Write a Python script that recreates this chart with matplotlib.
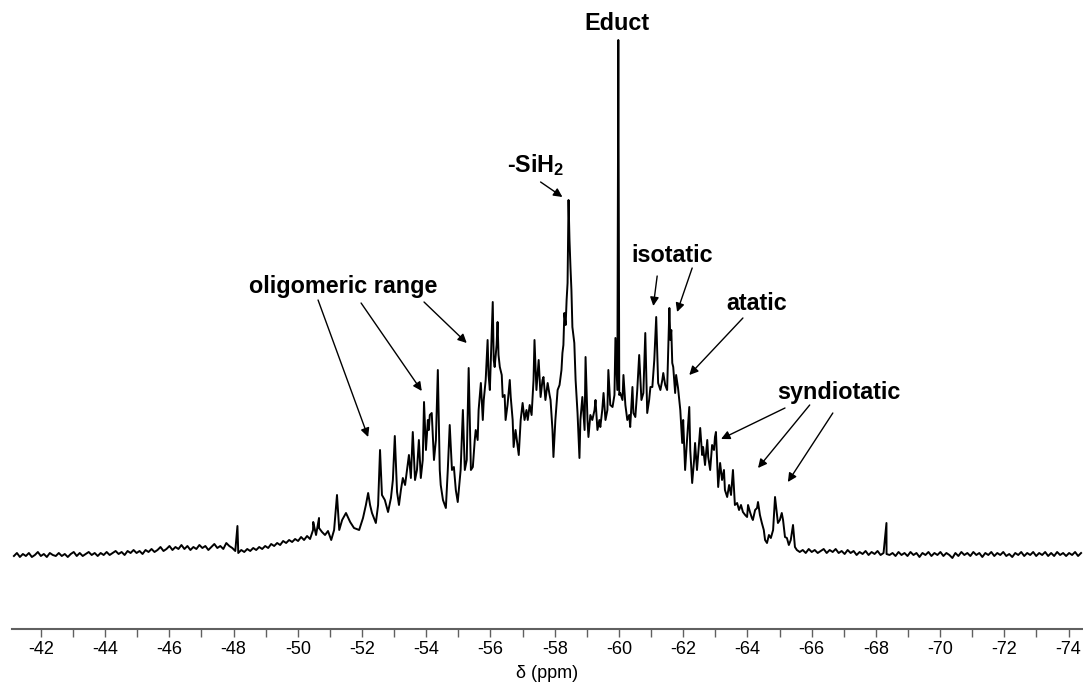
import numpy as np
import matplotlib
matplotlib.use("Agg")
import matplotlib.pyplot as plt

plt.rcParams['font.family'] = ['Liberation Sans', 'DejaVu Sans']
plt.rcParams['mathtext.fontset'] = 'custom'
plt.rcParams['mathtext.rm'] = 'Liberation Sans'
plt.rcParams['mathtext.bf'] = 'Liberation Sans:bold'
plt.rcParams['axes.unicode_minus'] = False

# 29Si NMR trace, intensity in a.u. (baseline = 0, Educt line = 515)
# low-field baseline, even steps from -41.16 to -50.94 ppm
base_left = [-1, 2, -2, 1, -1, 2, -2, 0, 3, -1, 1, -2, 2, 0, -1, 2, -1, 1, -2, 1,
             3, -1, 2, -1, 1, 3, 0, 2, -1, 2, 0, 3, 0, 2, 4, 1, 3, 0, 4, 2,
             5, 2, 4, 1, 5, 3, 6, 3, 5, 8, 4, 6, 9, 5, 8, 6, 10, 6, 9, 5,
             8, 6, 10, 7, 9, 5, 8, 11, 7, 9, 6, 12, 9, 7, 4, 2, 5, 3, 6, 4,
             7, 5, 8, 6, 9, 7, 11, 9, 12, 10, 14, 12, 15, 13, 16, 14, 18, 15, 19, 16,
             25, 20, 27, 23, 20, 24]
# high-field baseline, even steps from -65.63 to -74.39 ppm
base_right = [3, 5, 2, 6, 3, 5, 2, 4, 6, 2, 5, 3, 6, 2, 4, 1, 5, 2, 4, 0,
              3, 1, 4, 0, 3, 1, 4, 0, 2, 1, 0, 2, -1, 3, 0, 2, -1, 3, 0, 2,
              -2, 2, 0, 3, -1, 2, 0, 3, -1, 2, 0, -3, 2, -1, 3, 0, 2, -1, 3, 0,
              2, -2, 2, 0, 3, -1, 2, 0, 3, -1, 1, -2, 2, 0, 3, -1, 2, 0, 3, -1,
              2, 0, 3, -1, 2, -1, 3, 0, 2, -1, 2, 0, 3, -1, 2]
# isolated sharp lines on the baselines
spike_ppm = [-48.12, -50.48, -50.66, -68.33]
spike_int = [29, 33, 37, 32]

# polymer region (ppm, intensity)
main_trace = [
    (-51.04, 15), (-51.13, 25), (-51.22, 60), (-51.29, 25), (-51.38, 35), (-51.50, 42),
    (-51.63, 33), (-51.75, 27), (-51.91, 25), (-52.03, 37), (-52.12, 50), (-52.19, 62),
    (-52.25, 50), (-52.31, 42), (-52.43, 32), (-52.50, 50), (-52.56, 105), (-52.62, 60),
    (-52.71, 55), (-52.81, 43), (-52.90, 57), (-52.96, 75), (-53.02, 119), (-53.09, 63),
    (-53.15, 50), (-53.21, 65), (-53.27, 77), (-53.34, 70), (-53.40, 85), (-53.46, 100),
    (-53.52, 77), (-53.58, 123), (-53.65, 75), (-53.71, 85), (-53.77, 115), (-53.83, 77),
    (-53.89, 95), (-53.93, 153), (-53.99, 105), (-54.05, 135), (-54.08, 125), (-54.11, 140),
    (-54.17, 142), (-54.24, 95), (-54.30, 115), (-54.36, 185), (-54.42, 85), (-54.45, 70),
    (-54.52, 55), (-54.61, 47), (-54.67, 85), (-54.73, 130), (-54.80, 85), (-54.86, 88),
    (-54.92, 65), (-54.98, 53), (-55.04, 75), (-55.07, 85), (-55.14, 145), (-55.20, 85),
    (-55.26, 95), (-55.32, 187), (-55.39, 85), (-55.45, 88), (-55.51, 115), (-55.54, 125),
    (-55.60, 115), (-55.63, 145), (-55.70, 172), (-55.76, 135), (-55.79, 155), (-55.85, 175),
    (-55.91, 215), (-55.94, 180), (-55.98, 165), (-56.04, 225), (-56.07, 253), (-56.10, 195),
    (-56.13, 188), (-56.19, 210), (-56.22, 233), (-56.25, 200), (-56.29, 188), (-56.35, 180),
    (-56.38, 158), (-56.44, 160), (-56.47, 135), (-56.53, 150), (-56.60, 175), (-56.63, 158),
    (-56.69, 135), (-56.72, 108), (-56.78, 125), (-56.84, 110), (-56.88, 100), (-56.94, 135),
    (-57.00, 152), (-57.06, 135), (-57.12, 145), (-57.16, 135), (-57.22, 150), (-57.28, 140),
    (-57.34, 175), (-57.37, 215), (-57.43, 165), (-57.50, 195), (-57.56, 158), (-57.62, 175),
    (-57.65, 178), (-57.71, 155), (-57.78, 172), (-57.84, 160), (-57.87, 155), (-57.93, 125),
    (-57.96, 98), (-58.02, 135), (-58.09, 165), (-58.15, 170), (-58.21, 185), (-58.24, 202),
    (-58.27, 210), (-58.30, 242), (-58.34, 230), (-58.37, 255), (-58.40, 272), (-58.43, 355),
    (-58.46, 315), (-58.49, 288), (-58.52, 265), (-58.55, 228), (-58.61, 212), (-58.65, 175),
    (-58.71, 142), (-58.77, 97), (-58.80, 135), (-58.86, 158), (-58.93, 125), (-58.96, 198),
    (-59.02, 135), (-59.05, 118), (-59.11, 140), (-59.17, 135), (-59.24, 145), (-59.27, 155),
    (-59.33, 125), (-59.39, 135), (-59.42, 128), (-59.48, 145), (-59.52, 162), (-59.58, 135),
    (-59.64, 145), (-59.67, 185), (-59.73, 150), (-59.80, 148), (-59.86, 160), (-59.89, 217),
    (-59.95, 165), (-59.98, 515), (-60.01, 160), (-60.04, 162), (-60.11, 155), (-60.14, 180),
    (-60.20, 150), (-60.26, 135), (-60.32, 140), (-60.35, 128), (-60.42, 168), (-60.45, 142),
    (-60.51, 138), (-60.57, 165), (-60.63, 200), (-60.70, 155), (-60.76, 162), (-60.82, 222),
    (-60.88, 142), (-60.94, 155), (-60.98, 168), (-61.04, 168), (-61.10, 195), (-61.16, 238),
    (-61.22, 172), (-61.29, 165), (-61.35, 175), (-61.38, 182), (-61.44, 170), (-61.50, 165),
    (-61.57, 247), (-61.60, 215), (-61.63, 225), (-61.66, 192), (-61.69, 188), (-61.75, 162),
    (-61.78, 180), (-61.84, 167), (-61.91, 145), (-61.97, 112), (-62.00, 135), (-62.06, 85),
    (-62.12, 115), (-62.19, 148), (-62.22, 105), (-62.28, 72), (-62.34, 95), (-62.37, 112),
    (-62.43, 85), (-62.50, 115), (-62.53, 127), (-62.59, 100), (-62.62, 108), (-62.68, 90),
    (-62.75, 115), (-62.78, 98), (-62.84, 85), (-62.90, 110), (-62.96, 105), (-62.99, 118),
    (-63.02, 123), (-63.09, 68), (-63.15, 92), (-63.21, 75), (-63.27, 85), (-63.30, 65),
    (-63.37, 58), (-63.43, 70), (-63.49, 60), (-63.55, 85), (-63.61, 50), (-63.68, 52),
    (-63.74, 45), (-63.80, 50), (-63.86, 43), (-63.93, 40), (-63.99, 38), (-64.02, 50),
    (-64.08, 43), (-64.14, 37), (-64.17, 35), (-64.24, 45), (-64.30, 47), (-64.33, 53),
    (-64.39, 40), (-64.45, 32), (-64.51, 25), (-64.55, 15), (-64.61, 12), (-64.67, 20),
    (-64.73, 17), (-64.80, 25), (-64.86, 58), (-64.92, 40), (-64.95, 32), (-65.01, 35),
    (-65.07, 42), (-65.11, 35), (-65.17, 18), (-65.23, 17), (-65.29, 10), (-65.35, 15),
    (-65.42, 30), (-65.48, 8), (-65.54, 5),
]

main_ppm = np.array([p for p, _ in main_trace])
main_int = np.array([i for _, i in main_trace])
left_ppm = np.linspace(-41.16, -50.94, len(base_left))
right_ppm = np.linspace(-65.63, -74.39, len(base_right))

ppm = np.concatenate([left_ppm, spike_ppm, main_ppm, right_ppm])
inten = np.concatenate([base_left, spike_int, main_int, base_right])
order = np.argsort(-ppm)
ppm, inten = ppm[order], inten[order]

fig = plt.figure(figsize=(10.83, 6.83), dpi=100)
ax = fig.add_axes([12 / 1083, 54 / 683, 1 - 12 / 1083, 629 / 683])
ax.plot(ppm, inten, color='black', lw=1.4)

ax.set_xlim(-41.1, -74.45)
ax.set_ylim(-74, 555)
ax.set_xticks(np.arange(-42, -75, -2))
ax.set_xticks(np.arange(-43, -75, -2), minor=True)
ax.set_yticks([])
for side in ['left', 'top', 'right']:
    ax.spines[side].set_visible(False)
ax.spines['bottom'].set_color('#606060')
ax.spines['bottom'].set_linewidth(1.5)
ax.tick_params(axis='x', which='both', direction='out', length=6, width=1,
               color='#606060', labelsize=13, pad=3)
ax.set_xlabel('δ (ppm)', fontsize=13, labelpad=5)

label_kw = dict(fontsize=16.8, fontweight='bold', ha='center', va='center')
ax.text(-59.95, 532, 'Educt', **label_kw)
ax.text(-57.40, 390, '-SiH$_\\mathbf{2}$', **label_kw)
ax.text(-61.66, 300, 'isotatic', **label_kw)
ax.text(-64.30, 252, 'atatic', **label_kw)
ax.text(-66.84, 162, 'syndiotatic', **label_kw)
ax.text(-51.41, 268, 'oligomeric range', **label_kw)

arrows = [
    ((-50.63, 255), (-52.19, 118)),
    ((-51.97, 252), (-53.86, 164)),
    ((-53.93, 253), (-55.26, 212)),
    ((-57.56, 373), (-58.24, 358)),
    ((-61.19, 279), (-61.07, 249)),
    ((-62.28, 287), (-61.81, 243)),
    ((-63.86, 237), (-62.19, 180)),
    ((-65.17, 147), (-63.18, 116)),
    ((-65.94, 150), (-64.33, 87)),
    ((-66.66, 142), (-65.26, 73)),
]
for tail, head in arrows:
    ax.annotate('', xy=head, xytext=tail,
                arrowprops=dict(arrowstyle='-|>', color='black', lw=1.0,
                                mutation_scale=13, shrinkA=0, shrinkB=0))

fig.savefig('out.png', dpi=100)
